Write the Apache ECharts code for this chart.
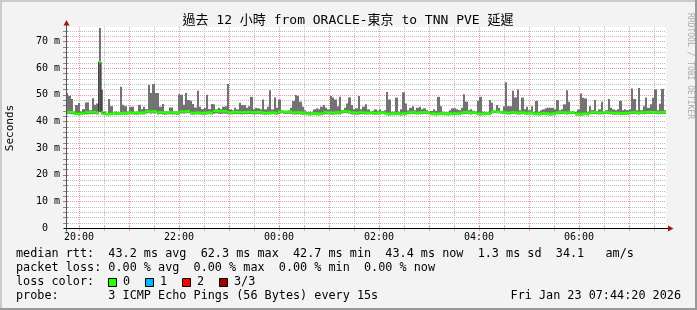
<!DOCTYPE html>
<html><head><meta charset="utf-8">
<script src="https://cdn.jsdelivr.net/npm/echarts@6/dist/echarts.min.js"></script>
<style>html,body{margin:0;padding:0;background:#f3f3f3}#c{width:697px;height:310px}</style>
</head><body><div id="c"></div>
<script>
const titleText = '過去 12 小時 from ORACLE-東京 to TNN PVE 延遲';
const yAxisName = 'Seconds';
const watermark = 'RRDTOOL / TOBI OETIKER';
const tickHours = [0, 2, 4, 6, 8, 10];
const timeLabels = ['20:00', '22:00', '00:00', '02:00', '04:00', '06:00'];
const majorX = [0, 1, 2, 3, 4, 5, 6, 7, 8, 9, 10, 11];
const minorX = [0.5, 1.5, 2.5, 3.5, 4.5, 5.5, 6.5, 7.5, 8.5, 9.5, 10.5, 11.5];
const majorY = [10, 20, 30, 40, 50, 60, 70];
const minorY = [2, 4, 6, 8, 12, 14, 16, 18, 22, 24, 26, 28, 32, 34, 36, 38, 42, 44, 46, 48, 52, 54, 56, 58, 62, 64, 66, 68, 72, 74];
const startHour = -0.26111;   // 19:44:20, hours relative to 20:00
const endHour = 11.73889;     // 07:44:20
const yMax = 75.4;

// smoke top (max ping, ms) per column
const smokeHigh = [
50.6,49.6,48.4,43.4,46.1,46.9,43.7,44.6,47.1,47.2,44.2,48.7,46.2,46.7,75.0,51.9,43.7,43.0,48.4,45.7,
43.2,43.7,43.4,53.0,46.2,45.7,43.7,45.5,45.5,43.4,43.7,46.2,44.5,45.5,44.6,53.6,50.6,54.0,50.6,50.6,
45.5,46.5,43.7,43.7,45.2,45.2,43.7,43.7,50.2,50.0,46.2,50.6,48.0,47.7,46.5,45.2,51.5,45.5,44.6,45.0,
50.0,44.6,46.5,
46.4,44.5,45.1,44.5,45.5,45.7,54.0,44.5,44.2,45.1,44.5,47.0,46.1,46.1,45.1,45.7,49.2,44.5,45.1,44.9,
44.5,48.2,44.5,45.5,51.7,44.5,49.0,45.1,48.2,44.2,43.6,44.0,44.2,45.1,47.6,49.9,49.5,47.4,45.5,44.2,
43.4,43.6,43.4,44.5,44.9,44.5,45.5,46.1,45.1,44.5,49.5,49.0,48.2,45.7,49.2,44.2,45.1,46.7,49.0,46.1,
44.5,44.9,49.5,44.5,45.5,
46.4,44.5,43.6,44.0,44.5,44.0,44.5,43.9,44.2,51.0,48.2,43.6,43.6,48.9,43.6,44.5,50.9,46.7,44.2,45.1,
45.7,44.2,45.1,45.5,44.5,44.9,44.2,43.4,43.9,44.5,44.0,49.2,45.7,43.6,43.4,43.4,44.2,44.9,44.9,44.5,
44.2,45.1,50.2,47.4,44.2,44.5,44.0,43.6,47.7,49.2,43.6,43.6,43.4,48.0,47.0,43.6,46.1,45.1,43.6,45.7,
54.7,45.7,45.7,51.5,49.0,
52.0,44.2,48.9,44.5,45.5,44.2,45.7,43.6,47.7,43.6,44.2,44.5,44.9,45.1,45.1,45.1,44.5,48.0,44.2,44.5,
46.4,51.7,47.4,43.6,43.4,43.4,44.5,50.5,48.9,48.6,43.6,45.7,44.2,48.0,43.9,44.5,47.4,43.6,44.2,48.4,
45.1,44.5,44.2,44.5,47.7,44.2,44.5,44.2,44.5,52.3,48.4,44.2,52.5,44.2,45.7,49.0,45.1,46.4,48.9,52.0,
44.2,46.6,52.2,44.2
];
// smoke bottom (min ping, ms) per column
const smokeLow = [
42.7,42.8,42.7,42.6,42.4,42.3,42.4,42.5,42.7,42.6,42.7,42.7,42.8,42.6,43.5,42.6,42.4,42.3,42.3,42.4,
42.5,42.4,42.5,42.6,42.6,42.5,42.6,42.7,42.6,42.6,42.5,42.6,42.7,42.6,43.0,43.1,42.9,43.0,43.0,42.6,
42.7,42.6,42.5,42.6,42.7,42.6,42.6,42.5,42.6,43.0,42.9,43.0,43.1,42.6,42.5,42.6,42.7,42.6,42.5,42.6,
42.6,42.7,42.6,
42.9,43.0,42.9,42.8,42.9,42.9,42.7,42.6,42.7,42.8,42.7,42.7,42.6,42.7,42.7,42.8,42.7,42.6,42.7,42.7,
42.7,42.6,42.5,42.6,42.6,42.7,42.6,42.5,42.9,43.0,42.9,42.8,42.9,42.9,42.6,42.6,42.7,42.6,42.5,42.6,
42.3,42.2,42.3,42.4,42.3,42.2,42.3,42.6,42.7,42.6,42.6,42.5,42.6,42.7,42.6,43.0,43.1,43.0,42.9,42.6,
42.6,42.5,42.6,42.7,42.6,
42.6,42.6,42.7,42.6,42.5,42.6,42.6,42.7,42.6,42.3,42.2,42.3,42.3,42.4,42.3,42.2,42.3,42.3,42.7,42.7,
42.8,42.7,42.6,42.7,42.7,42.8,42.7,42.7,42.3,42.3,42.2,42.3,42.4,42.3,42.3,42.2,42.3,42.3,42.4,42.3,
42.3,42.7,42.7,42.8,42.7,42.6,42.7,42.7,42.3,42.2,42.3,42.3,42.4,42.3,43.0,43.1,43.0,43.0,42.9,42.7,
42.7,42.6,42.7,42.8,42.7,
42.6,42.6,42.7,42.6,42.5,42.6,42.6,42.3,42.3,42.2,42.3,42.4,42.3,42.3,42.2,42.3,42.3,42.7,42.7,42.8,
42.7,42.6,42.7,42.7,42.8,42.2,42.2,42.1,42.2,42.3,42.2,42.7,42.7,42.8,42.7,42.6,42.7,42.7,42.8,42.7,
42.7,42.5,42.5,42.6,42.5,42.4,42.5,42.5,42.7,42.7,42.8,42.7,42.6,42.7,42.7,42.8,42.8,42.8,42.9,42.8,
42.7,42.8,42.8,42.8
];
// median rtt (ms) per column
const medianRtt = [
43.4,43.5,43.4,43.3,42.9,42.7,42.8,42.9,43.4,43.3,43.4,43.4,43.5,43.3,62.3,43.3,42.8,42.7,42.7,42.8,
42.9,42.8,42.9,43.0,43.2,43.1,43.2,43.3,43.2,43.2,43.1,43.2,43.3,43.2,43.7,43.8,43.6,43.7,43.7,43.3,
43.4,43.3,43.2,43.3,43.4,43.3,43.3,43.2,43.3,43.7,43.6,43.7,43.8,43.2,43.1,43.2,43.3,43.2,43.1,43.2,
43.2,43.3,43.2,
43.8,43.9,43.8,43.7,43.8,43.8,43.4,43.3,43.4,43.5,43.4,43.4,43.3,43.4,43.4,43.5,43.4,43.3,43.4,43.4,
43.4,43.2,43.1,43.2,43.2,43.3,43.2,43.1,43.6,43.7,43.6,43.5,43.6,43.6,43.3,43.3,43.4,43.3,43.2,43.3,
42.9,42.8,42.9,43.0,42.9,42.8,42.9,43.3,43.4,43.3,43.3,43.2,43.3,43.4,43.3,43.7,43.8,43.7,43.6,43.3,
43.3,43.2,43.3,43.4,43.3,
43.2,43.2,43.3,43.2,43.1,43.2,43.2,43.3,43.2,42.9,42.8,42.9,42.9,43.0,42.9,42.8,42.9,42.9,43.3,43.3,
43.4,43.3,43.2,43.3,43.3,43.4,43.3,43.3,42.9,42.9,42.8,42.9,43.0,42.9,42.9,42.8,42.9,42.9,43.0,42.9,
42.9,43.3,43.3,43.4,43.3,43.2,43.3,43.3,42.9,42.8,42.9,42.9,43.0,42.9,43.6,43.7,43.6,43.6,43.5,43.3,
43.3,43.2,43.3,43.4,43.3,
43.2,43.2,43.3,43.2,43.1,43.2,43.2,42.9,42.9,42.8,42.9,43.0,42.9,42.9,42.8,42.9,42.9,43.3,43.3,43.4,
43.3,43.2,43.3,43.3,43.4,42.8,42.8,42.7,42.8,42.9,42.8,43.3,43.3,43.4,43.3,43.2,43.3,43.3,43.4,43.3,
43.3,43.1,43.1,43.2,43.1,43.0,43.1,43.1,43.3,43.3,43.4,43.3,43.2,43.3,43.3,43.4,43.4,43.4,43.5,43.4,
43.3,43.4,43.4,43.4
];

const legendLine1 = 'median rtt:  43.2 ms avg  62.3 ms max  42.7 ms min  43.4 ms now  1.3 ms sd  34.1   am/s';
const legendLine2 = 'packet loss: 0.00 % avg  0.00 % max  0.00 % min  0.00 % now';
const legendLine3 = 'loss color:';
const lossLevels = ['0', '1', '2', '3/3'];
const lossColors = ['#26ff00', '#00b8ff', '#ff0000', '#a00000'];
const legendLine4 = 'probe:       3 ICMP Echo Pings (56 Bytes) every 15s';
const dateText = 'Fri Jan 23 07:44:20 2026';

const N = smokeHigh.length;
const dt = (endHour - startHour) / N;
const mono = '"DejaVu Sans Mono", "Noto Sans CJK TC", monospace';
const MINOR_C = '#bdbdbd', MAJOR_C = '#e89a9a';

const smokeData = smokeHigh.map((h, i) => [startHour + i * dt, smokeLow[i], h]);
const bandData = medianRtt.map((m, i) => [startHour + i * dt, m]);
const lineData = medianRtt.map((m, i) => [startHour + i * dt, m]);
lineData.push([endHour, medianRtt[N - 1]]);

const gridData = [];
minorX.forEach(v => gridData.push([v, 0, 0]));
majorX.forEach(v => gridData.push([v, 0, 1]));
minorY.forEach(v => gridData.push([startHour, v, 2]));
majorY.forEach(v => gridData.push([startHour, v, 3]));

function renderGrid(params, api) {
  const cs = params.coordSys;
  const kind = api.value(2);
  const col = (kind === 1 || kind === 3) ? MAJOR_C : MINOR_C;
  if (kind < 2) {
    const px = Math.round(api.coord([api.value(0), 0])[0]) + 0.5;
    const yb = cs.y + cs.height;
    return { type: 'group', children: [
      { type: 'line', shape: { x1: px, y1: cs.y, x2: px, y2: yb }, style: { stroke: col, lineWidth: 1, lineDash: [1, 1] } },
      { type: 'line', shape: { x1: px, y1: yb - 2, x2: px, y2: yb + 3 }, style: { stroke: col, lineWidth: 1 } }
    ] };
  } else {
    const py = Math.round(api.coord([startHour, api.value(1)])[1]) + 0.5;
    return { type: 'group', children: [
      { type: 'line', shape: { x1: cs.x, y1: py, x2: cs.x + cs.width, y2: py }, style: { stroke: col, lineWidth: 1, lineDash: [1, 1] } },
      { type: 'line', shape: { x1: cs.x - 3, y1: py, x2: cs.x + 2, y2: py }, style: { stroke: kind === 3 ? '#c07070' : '#888', lineWidth: 1 } }
    ] };
  }
}

function renderSmoke(params, api) {
  const t = api.value(0);
  const p1 = api.coord([t, api.value(2)]);
  const p2 = api.coord([t + dt, api.value(1)]);
  const x1 = Math.round(p1[0]), x2 = Math.round(p2[0]);
  return { type: 'rect', shape: { x: x1, y: p1[1], width: x2 - x1, height: p2[1] - p1[1] }, style: { fill: '#737373' } };
}

function renderBand(params, api) {
  const t = api.value(0);
  const p1 = api.coord([t, api.value(1)]);
  const p2 = api.coord([t + dt, api.value(1)]);
  const x1 = Math.round(p1[0]), x2 = Math.round(p2[0]);
  return { type: 'rect', shape: { x: x1, y: p1[1] - 1.3, width: x2 - x1, height: 2.6 }, style: { fill: lossColors[0] } };
}

function renderFrame(params, api) {
  const cs = params.coordSys;
  const x0 = cs.x + 0.5, yb = cs.y + cs.height + 0.5;
  const xr = cs.x + cs.width;
  return { type: 'group', children: [
    { type: 'line', shape: { x1: x0, y1: yb + 3, x2: x0, y2: cs.y - 2 }, style: { stroke: '#555', lineWidth: 1 } },
    { type: 'line', shape: { x1: x0 - 3, y1: yb, x2: xr + 4, y2: yb }, style: { stroke: '#000', lineWidth: 1 } },
    { type: 'polygon', shape: { points: [[x0 - 3, cs.y - 1.5], [x0, cs.y - 7], [x0 + 3, cs.y - 1.5]] }, style: { fill: '#9e1a1a' } },
    { type: 'polygon', shape: { points: [[xr + 2, yb - 3], [xr + 7.5, yb], [xr + 2, yb + 3]] }, style: { fill: '#9e1a1a' } }
  ] };
}

const graphics = [
  { type: 'rect', shape: { x: 0, y: 0, width: 697, height: 2 }, style: { fill: '#cbcbcb' }, silent: true },
  { type: 'rect', shape: { x: 0, y: 0, width: 2, height: 310 }, style: { fill: '#cbcbcb' }, silent: true },
  { type: 'rect', shape: { x: 695, y: 0, width: 2, height: 310 }, style: { fill: '#999999' }, silent: true },
  { type: 'rect', shape: { x: 0, y: 308, width: 697, height: 2 }, style: { fill: '#999999' }, silent: true },
  { type: 'text', x: 348, y: 21, style: { text: titleText, font: '13px ' + mono, fill: '#000', align: 'center', verticalAlign: 'middle' } },
  { type: 'text', x: 10, y: 128, rotation: Math.PI / 2, style: { text: yAxisName, font: '11px ' + mono, fill: '#000', align: 'center', verticalAlign: 'middle' } },
  { type: 'text', x: 690, y: 13, rotation: -Math.PI / 2, style: { text: watermark, font: '8px ' + mono, fill: '#aaaaaa', align: 'left', verticalAlign: 'middle' } },
  { type: 'text', x: 16, y: 254, style: { text: legendLine1, font: '11.8px ' + mono, fill: '#000', align: 'left', verticalAlign: 'middle' } },
  { type: 'text', x: 16, y: 268, style: { text: legendLine2, font: '11.8px ' + mono, fill: '#000', align: 'left', verticalAlign: 'middle' } },
  { type: 'text', x: 16, y: 282, style: { text: legendLine3, font: '11.8px ' + mono, fill: '#000', align: 'left', verticalAlign: 'middle' } },
  { type: 'text', x: 16, y: 296, style: { text: legendLine4, font: '11.8px ' + mono, fill: '#000', align: 'left', verticalAlign: 'middle' } },
  { type: 'text', x: 681, y: 296, style: { text: dateText, font: '11.8px ' + mono, fill: '#000', align: 'right', verticalAlign: 'middle' } }
];
lossLevels.forEach((lab, i) => {
  const bx = 108 + i * 37;
  graphics.push({ type: 'rect', shape: { x: bx + 0.5, y: 278.5, width: 8, height: 8 }, style: { fill: lossColors[i], stroke: '#000', lineWidth: 1 } });
  graphics.push({ type: 'text', x: bx + 15, y: 282, style: { text: lab, font: '11.8px ' + mono, fill: '#000', align: 'left', verticalAlign: 'middle' } });
});

const chart = echarts.init(document.getElementById('c'), null, { renderer: 'canvas' });
chart.setOption({
  animation: false,
  backgroundColor: '#f3f3f3',
  grid: { left: 66, right: 31, top: 27, bottom: 82, show: true, backgroundColor: '#ffffff', borderWidth: 0 },
  xAxis: {
    type: 'value', min: startHour, max: endHour,
    axisLine: { show: false }, axisTick: { show: false }, splitLine: { show: false },
    axisLabel: {
      customValues: tickHours,
      formatter: v => { const k = tickHours.indexOf(Math.round(v)); return k >= 0 ? timeLabels[k] : ''; },
      fontFamily: mono, fontSize: 10, color: '#000', margin: 4
    }
  },
  yAxis: {
    type: 'value', min: 0, max: yMax, interval: 10,
    axisLine: { show: false }, axisTick: { show: false }, splitLine: { show: false },
    axisLabel: {
      showMaxLabel: false,
      formatter: v => v === 0 ? '0  ' : v + ' m',
      fontFamily: mono, fontSize: 10, color: '#000', margin: 6
    }
  },
  graphic: graphics,
  series: [
    { type: 'custom', name: 'grid', data: gridData, renderItem: renderGrid, silent: true, clip: false, z: 1 },
    { type: 'custom', name: 'smoke', data: smokeData, encode: { x: 0, y: [1, 2] }, renderItem: renderSmoke, silent: true, z: 2 },
    { type: 'line', name: 'median', data: lineData, step: 'end', showSymbol: false, symbol: 'none', lineStyle: { color: '#202020', width: 1 }, silent: true, z: 3 },
    { type: 'custom', name: 'band', data: bandData, renderItem: renderBand, silent: true, z: 4 },
    { type: 'custom', name: 'frame', data: [[startHour, 0]], renderItem: renderFrame, silent: true, clip: false, z: 5 }
  ]
});
</script></body></html>
